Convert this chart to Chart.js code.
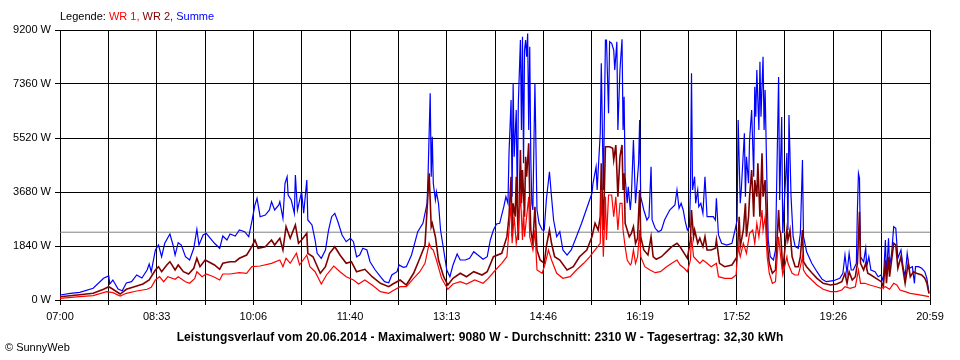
<!DOCTYPE html>
<html>
<head>
<meta charset="utf-8">
<script src="https://cdn.jsdelivr.net/npm/chart.js@4.4.1/dist/chart.umd.min.js"></script>
<style>
    html, body { margin: 0; padding: 0; background: #ffffff; }
    #wrap {
        position: relative;
        width: 960px;
        height: 360px;
        font-family: 'Liberation Sans', Arial, sans-serif;
        font-size: 11px;
        color: #000000;
    }
    #chart { position: absolute; left: 0; top: 0; }
    .legend { position: absolute; left: 60px; top: 10px; line-height: 13px; white-space: nowrap; }
    .caption { position: absolute; left: 0; top: 330px; width: 960px; text-align: center; font-weight: bold; font-size: 12px; letter-spacing: 0.1px; line-height: 14px; }
    .copy { position: absolute; left: 5px; top: 341px; line-height: 13px; }
    .wr1 { color: #ff0000; }
    .wr2 { color: #800000; }
    .sum { color: #0000ff; }
</style>
</head>
<body>
<div id="wrap">
    <canvas id="chart" width="960" height="360"></canvas>
    <div class="legend">Legende: <span class="wr1">WR 1,</span> <span class="wr2">WR 2,</span> <span class="sum">Summe</span></div>
    <div class="caption">Leistungsverlauf vom 20.06.2014 - Maximalwert: 9080 W - Durchschnitt: 2310 W - Tagesertrag: 32,30 kWh</div>
    <div class="copy">&copy; SunnyWeb</div>
</div>
<script>
// x values are minutes after 07:00, y values in W
const tickLabels = ['07:00', '08:33', '10:06', '11:40', '13:13', '14:46', '16:19', '17:52', '19:26', '20:59'];
const powerTicks = [0, 1840, 3680, 5520, 7360, 9200];
const avgWatts = 2310;

const sumMinutes = [
    0, 10, 19, 32, 42, 47, 48, 51, 56, 60, 64, 69, 74, 79, 84, 86, 88, 92, 95, 98, 101, 106, 109, 111, 114, 117, 121, 125, 129, 132, 134, 138, 141, 145, 149, 154, 157, 161, 164, 169, 173,
    178, 182, 185, 188, 190, 193, 198, 202, 204, 207, 211, 212, 215, 217, 219, 220, 223, 226, 227, 229, 233, 235, 238, 239, 243, 246, 248, 252, 256, 259, 262, 265, 268, 272, 276, 280, 283, 286, 289, 292, 296, 299, 304, 309, 313, 317, 320, 325, 327, 331, 334, 339, 342, 345,
    350, 354, 355, 357, 358, 359, 360, 362, 363, 365, 367, 370, 373, 376, 379, 383, 386, 391, 395, 399, 403, 408, 412, 415, 418, 421, 424, 428, 430, 432, 433, 435, 436, 437, 438, 440, 441, 442, 444, 445, 446, 447, 448, 449, 450, 451, 452, 453, 454, 455, 456, 458, 460, 462, 465, 467, 469, 472, 474, 476, 479, 482, 485, 489, 493, 498, 503, 508, 513, 514, 517, 518, 521,
    522, 524, 526, 527, 529, 530, 532, 534, 535, 537, 538, 540, 542, 543, 544, 545, 547, 548, 550, 551, 553, 555, 556, 558, 559, 560, 563, 566, 568, 570, 571, 574, 577, 580, 583, 588, 593, 595, 597, 599, 601, 603, 605, 607, 608, 609, 610, 612, 613, 615, 616, 618, 620, 622, 624, 627, 630, 632, 633, 635, 638, 643, 648, 651, 653, 654, 656, 657, 660, 661, 662, 664, 665, 667, 669, 670, 671, 672, 674, 675, 676, 678, 679, 680, 682, 683, 685, 688, 690,
    693, 694, 696, 697, 701, 702, 703, 705, 707, 709, 712, 714, 716, 717, 720, 725, 730, 735, 739, 746, 752, 755, 757, 759, 761, 763, 765, 768, 769, 770, 771, 772, 775, 777, 778, 780, 782, 786, 789, 792, 794, 796, 797, 799, 800, 802, 804, 806, 808, 811, 813, 815, 817, 819, 822, 824, 825, 828, 831, 834, 836, 838
];
const sumWatts = [
    170, 228, 262, 399, 739, 818, 545, 681, 375, 317, 579, 624, 852, 750, 1022, 1227, 964, 1704, 1874, 1475, 1932, 2249, 1874, 1533, 1952, 1874, 1475, 1363, 1762, 2409, 1874, 2215, 2273, 2102, 1932, 1762, 2181, 2044, 2249, 2181, 2385,
    2327, 2157, 2668, 3237, 3465, 2838, 2896, 3067, 3349, 3067, 3237, 3349, 2784, 3976, 4201, 3578, 3407, 2954, 4259, 3067, 3690, 2954, 4089, 2726, 2556, 2044, 1591, 1421, 1704, 2385, 2838, 2954, 2668, 2215, 1986, 2102, 1986, 1475, 1533, 1762, 1704, 1305, 1022, 794, 624, 589, 852, 964, 1193, 1114, 1135, 1533, 1932, 2327,
    2613, 3295, 4317, 7043, 4201, 5564, 3976, 3407, 3690, 3295, 2385, 1704, 1022, 794, 1193, 1567, 1363, 1363, 1421, 1646, 1533, 1387, 1475, 2044, 2385, 2590, 2613, 3179, 3520, 3295, 4999, 6815, 3520, 7384, 4883, 6474, 3295, 6702, 8859, 5793, 8972, 4658, 8519, 8859, 8290, 9080, 5793, 8631, 4883, 3295, 3067, 7384, 3067, 2613, 2385, 2385, 3407, 4372, 3520, 2726, 2157, 2327, 1704, 1533, 1704, 2157, 2613, 3124, 3636, 3976, 4542, 3748, 5680,
    8065, 3748, 8859, 8859, 6362, 8801, 8747, 8519, 7837, 8801, 5793, 7837, 8883, 5793, 6927, 4201, 3295, 3861, 3067, 3520, 5452, 3295, 3748, 4658, 6133, 3520, 3067, 2726, 2838, 4542, 2726, 2443, 2327, 2385, 2726, 3067, 3237, 3748, 3124, 3295, 3067, 2668, 2385, 2497, 3748, 7725, 3748, 4201, 3295, 3748, 3179, 3295, 2954, 4201, 2838, 2838, 2838, 2726, 3465, 2215, 1932, 1874, 1932, 2385, 2726, 6133, 3295, 3748, 5680, 3520, 4883, 3976, 5452, 6474, 4201, 7268, 6246, 7837, 5793, 8120, 6246, 8290, 5793, 7155, 3520, 2044, 1475, 1363, 1704,
    7598, 3407, 6235, 2283, 5009, 2385, 6304, 3520, 2157, 1816, 1762, 2273, 4770, 2157, 1646, 1250, 964, 705, 624, 658, 739, 910, 1533, 910, 1591, 1022, 1022, 1250, 3067, 4317, 4147, 1475, 1305, 1762, 1135, 1475, 1022, 964, 794, 852, 624, 2044, 794, 2102, 1135, 1591, 2497, 2443, 1421, 1704, 1135, 794, 1591, 1080, 1135, 569, 1135, 1135, 1080, 964, 739, 228
];

const wr2Minutes = [
    0, 19, 32, 42, 47, 51, 58, 64, 74, 80, 86, 92, 95, 98, 103, 106, 111, 114, 119, 124, 129, 132, 135, 140, 145, 149, 154, 157, 164, 169, 173,
    180, 185, 188, 191, 198, 204, 207, 212, 215, 218, 222, 227, 230, 233, 238, 239, 244, 251, 256, 260, 265, 270, 276, 281, 286, 294, 301, 309, 317, 321, 328, 334, 341, 347,
    352, 356, 358, 359, 362, 365, 370, 374, 379, 386, 392, 399, 407, 412, 418, 426, 431, 433, 435, 436, 437, 439, 440, 442, 444, 445, 446, 448, 449, 450, 452, 453, 454, 456, 458, 460, 463, 467, 469, 472, 474, 477, 482, 489, 495, 501, 508, 513, 516, 519, 521,
    522, 524, 526, 527, 530, 533, 534, 536, 537, 538, 540, 542, 543, 544, 545, 547, 549, 551, 553, 555, 557, 559, 560, 563, 567, 570, 572, 575, 580, 585, 590, 595, 598, 602, 605, 608, 609, 611, 612, 615, 617, 620, 622, 624, 628, 632, 633, 636, 641, 648, 651, 653, 655, 656, 659, 661, 662, 664, 665, 667, 669, 670, 672, 673, 675, 677, 678, 680, 682, 684, 687, 690,
    693, 694, 695, 697, 701, 702, 704, 706, 709, 712, 714, 716, 717, 720, 725, 730, 736, 743, 749, 754, 757, 759, 761, 764, 767, 769, 771, 772, 775, 777, 779, 782, 787, 792, 794, 796, 797, 799, 800, 804, 806, 808, 811, 814, 815, 818, 820, 823, 826, 831, 834, 836, 838
];
const wr2Watts = [
    113, 181, 228, 365, 453, 365, 204, 365, 477, 545, 681, 1022, 1135, 964, 1193, 1305, 1022, 1193, 964, 886, 1080, 1421, 1135, 1363, 1271, 1193, 1046, 1250, 1305, 1305, 1421,
    1533, 1816, 2044, 1762, 1816, 2044, 1874, 2102, 1704, 2497, 2102, 2556, 1932, 2044, 2273, 1591, 1475, 910, 1135, 1591, 1816, 1533, 1250, 1305, 964, 1046, 794, 569, 453, 545, 681, 511, 910, 1421,
    1874, 4317, 2497, 2613, 2157, 1363, 794, 511, 739, 910, 794, 964, 852, 964, 1475, 1591, 2157, 2838, 4201, 2157, 3295, 2838, 4201, 2044, 5111, 3295, 4430, 2838, 4883, 4201, 5339, 3520, 2385, 1932, 3179, 1704, 1363, 1250, 1816, 2385, 1932, 1475, 1363, 1022, 1135, 1475, 1704, 2157, 2613, 2385, 2838,
    4658, 2385, 5223, 5223, 5223, 5169, 4770, 5281, 4430, 3520, 4883, 5281, 3748, 4317, 2613, 2385, 2157, 2273, 2497, 1932, 2102, 3748, 2157, 1704, 1533, 2157, 1475, 1387, 1475, 1646, 1816, 1932, 1816, 1591, 1421, 2044, 3067, 2157, 2385, 1932, 2102, 1816, 2157, 1704, 1704, 1762, 2044, 1250, 1135, 1193, 1363, 1475, 2838, 1816, 2385, 3295, 2157, 2838, 3520, 4430, 2838, 4089, 3520, 4658, 2838, 4999, 3520, 4089, 1932, 1250, 910, 1022,
    3067, 2385, 2273, 1022, 2385, 2044, 2385, 1475, 1135, 1135, 1475, 2385, 1305, 1135, 930, 739, 569, 511, 545, 624, 910, 569, 964, 681, 794, 1250, 3009, 1250, 1022, 1250, 910, 852, 739, 624, 453, 1363, 569, 1475, 794, 1932, 1874, 1080, 1475, 794, 569, 1250, 794, 964, 910, 852, 739, 569, 228
];

const wr1Minutes = [
    0, 19, 32, 45, 51, 58, 64, 74, 84, 88, 92, 96, 100, 104, 111, 114, 121, 125, 130, 132, 137, 141, 148, 154, 157, 164, 173,
    180, 185, 193, 204, 212, 215, 218, 222, 228, 231, 238, 241, 246, 252, 257, 264, 270, 276, 283, 288, 294, 301, 309, 317, 321, 328, 334, 341, 347,
    352, 356, 358, 360, 363, 368, 374, 379, 386, 392, 400, 408, 413, 420, 426, 431, 433, 435, 436, 438, 440, 442, 444, 446, 447, 448, 450, 452, 453, 456, 458, 460, 465, 468, 471, 474, 479, 485, 492, 498, 505, 511, 516, 521,
    522, 524, 526, 527, 529, 532, 534, 536, 538, 540, 542, 543, 545, 547, 550, 551, 553, 555, 557, 559, 560, 564, 569, 574, 579, 585, 590, 595, 598, 602, 605, 608, 609, 611, 614, 617, 620, 624, 628, 633, 635, 641, 648, 652, 654, 656, 659, 662, 665, 668, 670, 672, 674, 677, 678, 680, 682, 684, 687, 690,
    693, 695, 697, 701, 702, 706, 709, 712, 714, 716, 717, 720, 725, 730, 736, 743, 749, 754, 757, 762, 767, 770, 772, 776, 781, 787, 792, 796, 800, 804, 807, 810, 815, 820, 826, 833, 838
];
const wr1Watts = [
    57, 113, 147, 284, 249, 136, 228, 307, 365, 433, 681, 794, 624, 794, 705, 794, 624, 569, 739, 964, 794, 886, 794, 681, 886, 886, 930,
    910, 1135, 1158, 1250, 1363, 1135, 1421, 1250, 1591, 1193, 1533, 1135, 964, 545, 852, 1158, 964, 794, 681, 545, 681, 511, 284, 228, 317, 453, 453, 739, 964,
    1250, 1932, 1762, 1704, 1363, 739, 365, 545, 624, 545, 681, 569, 739, 1022, 1250, 1475, 2385, 3295, 1932, 2838, 1932, 2385, 3636, 2044, 3067, 2157, 2838, 3520, 2157, 1704, 2385, 1022, 910, 1250, 1704, 1363, 910, 739, 794, 1022, 1250, 1475, 1704, 1932,
    3748, 1475, 3520, 2044, 3578, 3578, 2838, 3520, 2385, 3295, 3295, 2385, 1816, 1363, 1193, 1250, 1704, 1250, 1475, 2385, 1475, 1135, 1022, 930, 964, 1135, 1250, 1363, 1193, 1080, 964, 1363, 2157, 1475, 1363, 1250, 1363, 1250, 1135, 1250, 794, 739, 739, 852, 1816, 1475, 1932, 1591, 2273, 2385, 1932, 2613, 2157, 3067, 2385, 2838, 1475, 910, 569, 624,
    2157, 1475, 852, 1475, 1250, 910, 852, 852, 1135, 1475, 1022, 852, 681, 511, 365, 284, 284, 341, 453, 399, 453, 1022, 569, 569, 511, 453, 399, 453, 365, 569, 511, 341, 284, 228, 194, 147, 113
];

function toMinutes(label) {
    const parts = label.split(':');
    return Number(parts[0]) * 60 + Number(parts[1]);
}

const dayMinutes = toMinutes(tickLabels[tickLabels.length - 1]) - toMinutes(tickLabels[0]);
const gridCount = (tickLabels.length - 1) * 2;
const axisFont = { family: "'Liberation Sans', Arial, sans-serif", size: 11 };

function series(label, minutes, watts, color, width, order) {
    return {
        label: label,
        data: minutes.map((m, i) => ({ x: m, y: watts[i] })),
        borderColor: color,
        borderWidth: width,
        pointRadius: 0,
        tension: 0,
        fill: false,
        order: order
    };
}

new Chart(document.getElementById('chart'), {
    type: 'line',
    data: {
        datasets: [
            series('WR 1', wr1Minutes, wr1Watts, '#ff0000', 1.2, 1),
            series('WR 2', wr2Minutes, wr2Watts, '#800000', 1.6, 2),
            series('Summe', sumMinutes, sumWatts, '#0000ff', 1.2, 3),
            {
                label: 'Durchschnitt',
                data: [{ x: 0, y: avgWatts }, { x: dayMinutes, y: avgWatts }],
                borderColor: '#808080',
                borderWidth: 1,
                pointRadius: 0,
                order: 4
            }
        ]
    },
    options: {
        responsive: false,
        animation: false,
        events: [],
        layout: {
            padding: { top: 30, right: 30, bottom: 0, left: 0 }
        },
        plugins: {
            legend: { display: false },
            tooltip: { enabled: false }
        },
        scales: {
            x: {
                type: 'linear',
                min: 0,
                max: dayMinutes,
                afterBuildTicks: function(scale) {
                    const ticks = [];
                    for (let i = 0; i <= gridCount; i++) {
                        ticks.push({ value: i * dayMinutes / gridCount });
                    }
                    scale.ticks = ticks;
                },
                afterFit: function(scale) {
                    scale.height = 60;
                },
                grid: {
                    color: '#000000',
                    lineWidth: 1,
                    tickLength: 5
                },
                border: { color: '#000000' },
                ticks: {
                    autoSkip: false,
                    maxRotation: 0,
                    padding: 5,
                    color: '#000000',
                    font: axisFont,
                    callback: function(value, index) {
                        return index % 2 === 0 ? tickLabels[index / 2] : '';
                    }
                }
            },
            y: {
                min: 0,
                max: powerTicks[powerTicks.length - 1],
                afterBuildTicks: function(scale) {
                    scale.ticks = powerTicks.map(v => ({ value: v }));
                },
                afterFit: function(scale) {
                    scale.width = 60;
                },
                grid: {
                    color: '#000000',
                    lineWidth: 1,
                    tickLength: 5
                },
                border: { color: '#000000' },
                ticks: {
                    padding: 4,
                    color: '#000000',
                    font: axisFont,
                    callback: function(value) {
                        return value + ' W';
                    }
                }
            }
        }
    }
});
</script>
</body>
</html>
